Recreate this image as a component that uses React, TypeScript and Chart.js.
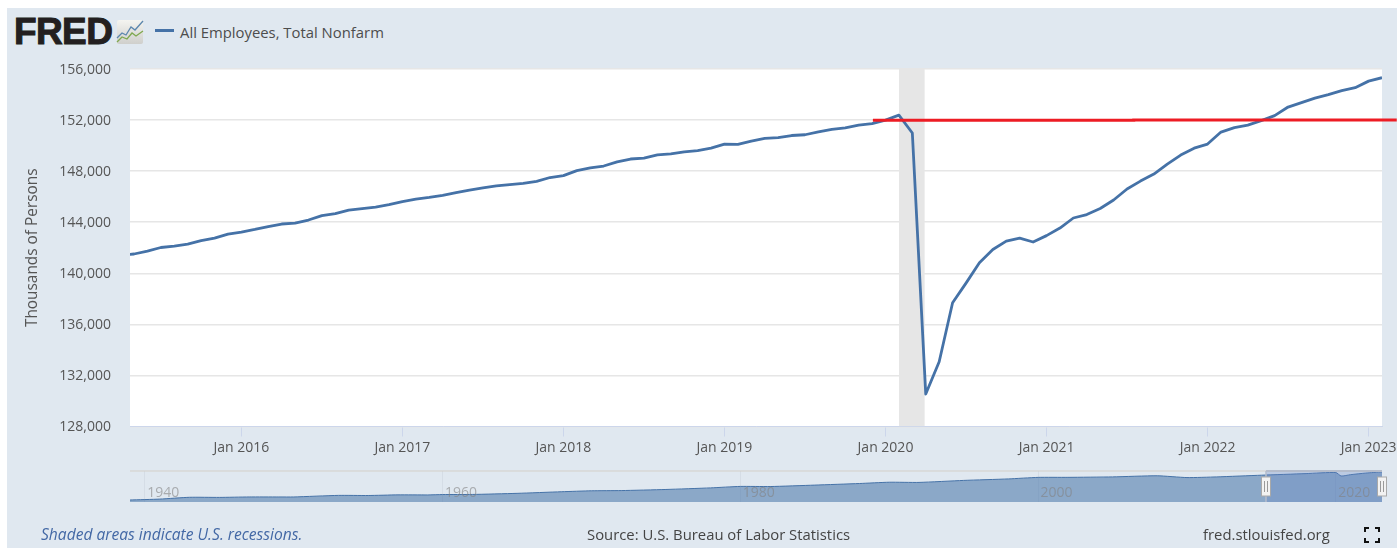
import React, { useEffect, useRef } from "react";
import { Chart, registerables } from "chart.js";

Chart.register(...registerables);

const FONT = '"Open Sans", sans-serif';

// Monthly values, thousands of persons, Apr 2015 .. Feb 2023
const payrolls = [
  141390, 141510, 141740, 142020, 142130, 142290, 142560, 142760, 143070,
  143230, 143430, 143660, 143860, 143930, 144170, 144520, 144680, 144950, 145070, 145190, 145380, 145620,
  145800, 145940, 146110, 146310, 146520, 146690, 146840, 146950, 147040, 147200, 147500, 147650,
  148040, 148250, 148400, 148730, 148950, 149020, 149270, 149360, 149510, 149610, 149800, 150120,
  150100, 150350, 150560, 150620, 150790, 150850, 151070, 151270, 151390, 151610, 151720, 152000,
  152390, 150990, 130540, 133070, 137690, 139230, 140830, 141860, 142520, 142760, 142450, 142950,
  143540, 144330, 144600, 145070, 145740, 146600, 147220, 147770, 148550, 149260, 149800, 150120,
  151060, 151410, 151610, 151960, 152350, 153020, 153370, 153720, 153990, 154300, 154540, 155050, 155320,
];
const firstMonth = -9; // months relative to Jan 2016

const xTickMonths = [0, 12, 24, 36, 48, 60, 72, 84];
const xTickLabels = ["Jan 2016", "Jan 2017", "Jan 2018", "Jan 2019", "Jan 2020", "Jan 2021", "Jan 2022", "Jan 2023"];

const recessionMonths = [49, 50.93];
const recessionTop = [156000, 156000];

const redLineMonths = [47.06, 66.5, 66.5, 86.1];
const redLineValues = [151985, 151985, 152015, 152015];

const navYears = [
  1939, 1941, 1943, 1945, 1947, 1949, 1950, 1953, 1955, 1957, 1959, 1960, 1962, 1965, 1968, 1970, 1972, 1975,
  1978, 1980, 1982, 1985, 1988, 1990, 1992, 1995, 1998, 2000, 2002, 2005, 2008, 2010, 2012, 2015, 2018, 2020,
  2020.35, 2021, 2022, 2023.1,
];
const navValues = [
  29.9, 34, 42, 41.5, 43.5, 43.5, 43.5, 50.5, 50, 52.8, 52.5, 54.3, 54.7, 59.6, 66.8, 71, 72, 76.9,
  84, 90.5, 90, 96.4, 103.5, 109.2, 108.4, 117.3, 124, 130.8, 131, 133, 138, 130, 133, 140.6, 147.7, 152.4,
  137, 143, 150, 155.3,
];
const navTickYears = [1940, 1960, 1980, 2000, 2020];
const navRange = [2015.31, 2023.1];

const whitePlot = {
  id: "whitePlot",
  beforeDraw(chart: any) {
    const { ctx, chartArea: a } = chart;
    ctx.save();
    ctx.fillStyle = "#ffffff";
    ctx.fillRect(a.left, a.top, a.right - a.left, a.bottom - a.top);
    ctx.restore();
  },
};

const navHandles = {
  id: "navHandles",
  afterDraw(chart: any) {
    const { ctx, chartArea: a, scales } = chart;
    ctx.save();
    navRange.forEach((yr) => {
      const x = Math.round(scales.x.getPixelForValue(yr));
      ctx.strokeStyle = "#b4bccb";
      ctx.lineWidth = 1.5;
      ctx.beginPath();
      ctx.moveTo(x, a.top);
      ctx.lineTo(x, a.bottom);
      if (yr === navRange[0]) ctx.stroke();
      ctx.fillStyle = "#f2f2f2";
      ctx.strokeStyle = "#a9a9a9";
      ctx.lineWidth = 1;
      ctx.fillRect(x - 4.5, a.top + 6, 9, 19);
      ctx.strokeRect(x - 4.5, a.top + 6, 9, 19);
      ctx.beginPath();
      ctx.moveTo(x - 1.5, a.top + 10);
      ctx.lineTo(x - 1.5, a.top + 21);
      ctx.moveTo(x + 1.5, a.top + 10);
      ctx.lineTo(x + 1.5, a.top + 21);
      ctx.strokeStyle = "#9a9a9a";
      ctx.stroke();
    });
    ctx.restore();
  },
};

const textStyle: React.CSSProperties = {
  position: "absolute",
  fontFamily: FONT,
  fontSize: 14.85,
  color: "#4a4a4a",
  whiteSpace: "nowrap",
  lineHeight: "20px",
};

export default function App() {
  const mainRef = useRef<HTMLCanvasElement>(null);
  const navRef = useRef<HTMLCanvasElement>(null);

  useEffect(() => {
    const main = new Chart(mainRef.current!, {
      type: "line",
      data: {
        datasets: [
          {
            label: "Recession",
            data: recessionMonths.map((x, i) => ({ x, y: recessionTop[i] })),
            borderWidth: 0,
            pointRadius: 0,
            fill: "start",
            backgroundColor: "#e6e6e6",
            order: 3,
          },
          {
            label: "All Employees, Total Nonfarm",
            data: payrolls.map((y, i) => ({ x: firstMonth + i, y })),
            borderColor: "#4572a7",
            borderWidth: 2.8,
            borderJoinStyle: "round",
            pointRadius: 0,
            tension: 0,
            fill: false,
            order: 2,
          },
          {
            label: "Reference level",
            data: redLineMonths.map((x, i) => ({ x, y: redLineValues[i] })),
            borderColor: "#ed1c24",
            borderWidth: 3,
            pointRadius: 0,
            tension: 0,
            fill: false,
            clip: false,
            order: 1,
          },
        ],
      } as any,
      options: {
        responsive: false,
        animation: false,
        layout: { padding: { left: 0, top: 69, right: 15, bottom: 0 } },
        plugins: { legend: { display: false }, tooltip: { enabled: false } },
        scales: {
          x: {
            type: "linear",
            min: -8.3,
            max: 85,
            afterBuildTicks: (s: any) => {
              s.ticks = xTickMonths.map((value) => ({ value }));
            },
            afterFit: (s: any) => {
              s.height = 121.5;
              s.paddingLeft = 0;
              s.paddingRight = 0;
            },
            ticks: {
              autoSkip: false,
              maxRotation: 0,
              padding: 3,
              color: "#555555",
              font: { family: FONT, size: 14 },
              callback: (v: any) => xTickLabels[xTickMonths.indexOf(v)],
            },
            grid: { drawOnChartArea: false, drawTicks: true, tickLength: 10, tickColor: "#ccd6eb" },
            border: { color: "#ccd6eb", width: 1 },
          },
          y: {
            min: 128000,
            max: 156000,
            afterFit: (s: any) => {
              s.width = 130;
            },
            ticks: {
              stepSize: 4000,
              padding: 19,
              labelOffset: 1,
              color: "#555555",
              font: { family: FONT, size: 14 },
              callback: (v: any) => Number(v).toLocaleString("en-US"),
            },
            grid: { color: "#e6e6e6", lineWidth: 1.5, drawTicks: false },
            border: { display: false },
            title: {
              display: true,
              text: "Thousands of Persons",
              color: "#555555",
              font: { family: FONT, size: 15.4 },
              padding: { top: 23, bottom: 0 },
            },
          },
        },
      } as any,
      plugins: [whitePlot],
    });

    const nav = new Chart(navRef.current!, {
      type: "line",
      data: {
        datasets: [
          {
            label: "Selected range",
            data: navRange.map((x) => ({ x, y: 159.3 })),
            borderColor: "#b4bccb",
            borderWidth: 2,
            pointRadius: 0,
            fill: "start",
            backgroundColor: "rgba(102,133,194,0.3)",
            clip: false,
            order: 1,
          },
          {
            label: "Navigator edge",
            data: [navYears[0], navRange[0]].map((x) => ({ x, y: 159.3 })),
            borderColor: "#d3cfc8",
            borderWidth: 1,
            pointRadius: 0,
            fill: false,
            clip: false,
            order: 2,
          },
          {
            label: "All Employees, Total Nonfarm",
            data: navYears.map((x, i) => ({ x, y: navValues[i] })),
            borderColor: "#4572a7",
            borderWidth: 1,
            pointRadius: 0,
            tension: 0.2,
            fill: "start",
            backgroundColor: "rgba(69,114,167,0.55)",
            order: 3,
          },
        ],
      } as any,
      options: {
        responsive: false,
        animation: false,
        layout: { padding: { left: 130, top: 11, right: 15, bottom: 0 } },
        plugins: { legend: { display: false }, tooltip: { enabled: false } },
        scales: {
          x: {
            type: "linear",
            min: 1939,
            max: 2023.1,
            afterBuildTicks: (s: any) => {
              s.ticks = navTickYears.map((value) => ({ value }));
            },
            afterFit: (s: any) => {
              s.height = 18;
              s.paddingLeft = 0;
              s.paddingRight = 0;
            },
            ticks: {
              autoSkip: false,
              maxRotation: 0,
              mirror: true,
              align: "start",
              padding: 1,
              z: 1,
              color: "rgba(130,130,130,0.6)",
              font: { family: FONT, size: 14 },
              callback: (v: any) => "\u2009" + v,
            },
            grid: { color: "#d5dde6", drawTicks: false },
            border: { display: false },
          },
          y: {
            min: 21,
            max: 159.3,
            display: false,
          },
        },
      } as any,
      plugins: [navHandles],
    });

    return () => {
      main.destroy();
      nav.destroy();
    };
  }, []);

  return (
    <div style={{ position: "fixed", left: 0, top: 0, width: 1397, height: 548, background: "#ffffff", overflow: "hidden" }}>
      <div style={{ position: "absolute", left: 7, top: 8, width: 1390, height: 540, background: "#e0e8f0" }} />
      <div
        style={{
          position: "absolute",
          left: 14,
          top: 10,
          fontFamily: '"Liberation Sans", Arial, sans-serif',
          fontWeight: 700,
          fontSize: 37,
          lineHeight: "44px",
          letterSpacing: -0.6,
          color: "#231f20",
          WebkitTextStroke: "1px #231f20",
        }}
      >
        FRED
      </div>
      <svg style={{ position: "absolute", left: 116, top: 19 }} width={28} height={26} viewBox="0 0 28 26">
        <defs>
          <linearGradient id="ic" x1="0" y1="0" x2="0" y2="1">
            <stop offset="0" stopColor="#f4f4f0" />
            <stop offset="1" stopColor="#cfcfcc" />
          </linearGradient>
        </defs>
        <rect x={1} y={1} width={26} height={24} rx={2} fill="url(#ic)" />
        <polyline points="1,19 6,14 10,16 15,8 19,11 27,2" fill="none" stroke="#5b86ad" strokeWidth={1.3} />
        <polyline points="1,23 6,18 11,20 16,14 20,17 27,12" fill="none" stroke="#7fa84f" strokeWidth={1.3} />
      </svg>
      <div style={{ position: "absolute", left: 155, top: 29, width: 19, height: 3, background: "#4572a7" }} />
      <div style={{ ...textStyle, left: 180, top: 22, color: "#4d4d4d" }}>All Employees, Total Nonfarm</div>

      <canvas ref={mainRef} width={1397} height={548} style={{ position: "absolute", left: 0, top: 0, width: 1397, height: 548 }} />
      <canvas ref={navRef} width={1397} height={60} style={{ position: "absolute", left: 0, top: 460, width: 1397, height: 60 }} />

      <div style={{ ...textStyle, left: 41, top: 524, fontSize: 15.6, fontStyle: "italic", color: "#4368a5" }}>Shaded areas indicate U.S. recessions.</div>
      <div style={{ ...textStyle, left: 587, top: 524, color: "#444444" }}>Source: U.S. Bureau of Labor Statistics</div>
      <div style={{ ...textStyle, left: 1203, top: 524, color: "#444444" }}>fred.stlouisfed.org</div>
      <svg style={{ position: "absolute", left: 1364, top: 527 }} width={16} height={16} viewBox="0 0 16 16">
        <path d="M1 5V1H5M11 1H15V5M15 11V15H11M5 15H1V11" fill="none" stroke="#111111" strokeWidth={2} />
      </svg>
    </div>
  );
}
